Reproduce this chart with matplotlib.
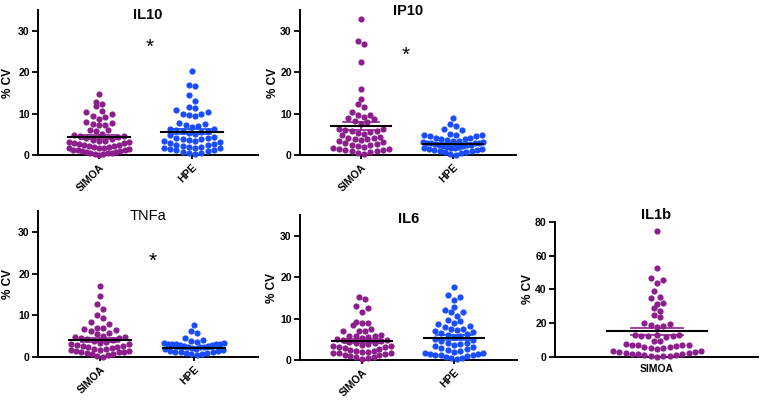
import numpy as np
import matplotlib
matplotlib.use('Agg')
import matplotlib.pyplot as plt

plt.rcParams['font.family'] = ['Liberation Sans', 'DejaVu Sans']

PURPLE = '#8c1f8c'
BLUE = '#1a4dff'

# % CV values (one list per assay / platform)
il10_simoa = [14.7, 12.8, 12.3, 11.9, 10.6, 10.3, 9.9, 9.4, 9.2, 8.8, 8.0, 7.8, 7.6,
              7.3, 7.2, 6.1, 6.0, 5.9, 5.0, 4.8, 4.7, 4.6, 4.4, 4.1, 3.9, 3.7, 3.5,
              3.4, 3.2, 3.1, 2.9, 2.8, 2.6, 2.5, 2.3, 2.2, 2.1, 2.0, 1.9, 1.8, 1.7,
              1.6, 1.4, 1.3, 1.2, 1.1, 1.0, 0.9, 0.8, 0.7, 0.6, 0.5, 0.4, 0.3, 0.2,
              0.1]
il10_hpe = [20.2, 16.9, 16.8, 14.5, 13.0, 11.6, 11.3, 10.8, 10.3, 10.0, 9.8, 9.7,
            9.5, 7.8, 7.6, 7.2, 6.9, 6.7, 6.4, 6.2, 6.1, 5.9, 5.8, 5.6, 5.3, 5.0,
            4.8, 4.4, 4.2, 4.0, 3.9, 3.8, 3.6, 3.4, 3.3, 3.1, 2.9, 2.7, 2.5, 2.3,
            2.2, 2.0, 1.9, 1.8, 1.7, 1.6, 1.4, 1.3, 1.1, 1.0, 0.8, 0.6, 0.4, 0.2]
ip10_simoa = [32.8, 27.6, 26.8, 22.4, 15.9, 13.6, 12.3, 11.7, 10.5, 9.7, 9.6, 9.3,
              8.9, 8.6, 8.2, 8.0, 7.5, 6.4, 6.2, 6.0, 5.9, 5.7, 5.6, 5.4, 5.2, 4.9,
              4.4, 4.2, 4.0, 3.9, 3.8, 3.6, 3.4, 3.2, 2.8, 2.6, 2.5, 2.3, 2.1, 1.9,
              1.7, 1.5, 1.4, 1.3, 1.2, 1.0, 0.9, 0.7, 0.5, 0.3]
ip10_hpe = [9.0, 7.6, 6.9, 6.3, 6.0, 5.0, 4.9, 4.8, 4.8, 4.7, 4.6, 4.2, 4.0, 3.9,
            3.8, 3.6, 3.5, 3.3, 3.2, 3.1, 3.0, 3.0, 2.9, 2.8, 2.7, 2.5, 2.4, 2.3,
            2.2, 2.1, 2.0, 1.9, 1.8, 1.7, 1.6, 1.5, 1.4, 1.3, 1.2, 1.0, 0.9, 0.8,
            0.7, 0.5, 0.3, 0.1]
tnfa_simoa = [17.0, 14.7, 12.6, 11.4, 10.1, 9.3, 8.5, 7.8, 7.0, 7.0, 6.6, 6.4, 6.2,
              5.8, 5.4, 5.1, 4.9, 4.7, 4.6, 4.5, 4.3, 4.1, 3.9, 3.6, 3.4, 3.2, 3.0,
              2.9, 2.7, 2.6, 2.4, 2.3, 2.1, 1.9, 1.8, 1.7, 1.6, 1.5, 1.4, 1.3, 1.2,
              1.1, 0.9, 0.8, 0.6, 0.4, 0.3, 0.1]
tnfa_hpe = [7.7, 6.3, 5.7, 4.6, 4.1, 3.8, 3.6, 3.4, 3.3, 3.2, 3.1, 3.0, 3.0, 3.0,
            2.9, 2.8, 2.7, 2.6, 2.5, 2.4, 2.3, 2.2, 2.0, 1.9, 1.7, 1.5, 1.4, 1.3,
            1.2, 1.1, 1.0, 0.9, 0.8, 0.6, 0.4]
il6_simoa = [15.3, 14.8, 13.1, 12.5, 11.7, 9.3, 9.0, 9.0, 8.5, 7.5, 7.1, 7.0, 6.9,
             6.0, 5.9, 5.8, 5.7, 5.6, 5.4, 5.1, 4.9, 4.8, 4.6, 4.4, 4.2, 4.0, 3.8,
             3.6, 3.4, 3.3, 3.2, 3.1, 2.9, 2.6, 2.4, 2.2, 2.1, 2.0, 1.9, 1.8, 1.7,
             1.6, 1.4, 1.2, 1.1, 1.0, 0.8, 0.7, 0.5, 0.3]
il6_hpe = [17.7, 15.7, 15.2, 14.4, 12.7, 12.0, 11.5, 11.5, 10.6, 9.7, 9.5, 8.9, 8.6,
           8.3, 7.9, 7.6, 7.4, 7.2, 6.9, 6.7, 6.5, 6.3, 6.1, 5.8, 5.6, 5.0, 4.8,
           4.5, 4.2, 4.0, 3.8, 3.6, 3.4, 3.2, 3.0, 2.7, 2.4, 2.1, 1.9, 1.7, 1.6,
           1.5, 1.4, 1.3, 1.2, 1.1, 1.0, 0.8, 0.6, 0.4, 0.2]
il1b_simoa = [74.7, 52.5, 46.9, 45.6, 43.6, 39.3, 35.7, 35.1, 32.2, 31.4, 29.2,
              27.4, 24.9, 23.5, 20.4, 19.7, 19.1, 18.5, 17.9, 13.3, 13.0, 12.8,
              12.6, 12.3, 12.2, 12.0, 9.5, 9.4, 7.7, 7.2, 7.0, 6.9, 6.9, 6.3, 6.1,
              6.0, 5.5, 5.5, 4.6, 3.8, 3.6, 3.2, 3.0, 2.6, 2.2, 2.0, 1.6, 1.5, 1.2,
              1.1, 0.8, 0.6, 0.4, 0.2]

# mean and SEM lines
means = {'IL10': [4.25, 5.6], 'IP10': [7.0, 2.7], 'TNFa': [4.1, 2.2],
         'IL6': [4.6, 5.4], 'IL1b': [15.1]}
sems = {'IL10': [0.5, 0.6], 'IP10': [1.0, 0.3], 'TNFa': [0.45, 0.25],
        'IL6': [0.5, 0.55], 'IL1b': [2.0]}

W, H = 763, 401
fig = plt.figure(figsize=(W / 100, H / 100), dpi=100)

DOT = 6.3  # marker diameter in pixels


def row_offsets(vals, px_per_unit, max_w):
    # Prism-like scatter: values grouped into rows about one dot high,
    # lowest value of a row in the middle, higher ones pushed outwards
    vals = np.asarray(vals, dtype=float)
    order = np.argsort(vals, kind='stable')
    h = DOT / px_per_unit
    rows, cur = [], [order[0]]
    for i in order[1:]:
        if vals[i] - vals[cur[0]] < h:
            cur.append(i)
        else:
            rows.append(cur)
            cur = [i]
    rows.append(cur)
    xs = np.zeros(len(vals))
    for r in rows:
        n = len(r)
        step = min(DOT, max_w / n) if n > 1 else DOT
        slots = (np.arange(n) - (n - 1) / 2) * step
        slots = sorted(slots, key=lambda s: (abs(s), -s))
        for idx, s in zip(r, slots):
            xs[idx] = s
    return xs


def panel(rect_px, ymax, yticks, title, groups, cat_px, star=None, title_y=None,
          bold_title=True, rotate=True, mean_half=0.33, cap_half=0.2, ylab_dx=28,
          max_w=64):
    L, R, B, T = rect_px
    ax = fig.add_axes([L / W, (H - B) / H, (R - L) / W, (B - T) / H])
    if len(cat_px) == 2:
        unit = cat_px[1] - cat_px[0]
    else:
        unit = 100.0
    ax.set_xlim((L - cat_px[0]) / unit, (R - cat_px[0]) / unit)
    ax.set_ylim(0, ymax)
    ypx = (B - T) / ymax

    names = []
    for k, (name, vals, color) in enumerate(groups):
        names.append(name)
        vals = np.asarray(vals)
        xo = row_offsets(vals, ypx, max_w) / unit
        ax.scatter(k + xo, vals, s=20, color=color, linewidths=0, zorder=3, clip_on=False)
        m = means[title][k]
        se = sems[title][k]
        ax.plot([k, k], [m - se, m + se], color=color, lw=1.2, zorder=4)
        for v in (m - se, m + se):
            ax.plot([k - cap_half, k + cap_half], [v, v], color=color, lw=1.2, zorder=4)
        ax.plot([k - mean_half, k + mean_half], [m, m], color='black', lw=1.5, zorder=5)

    for sp in ('top', 'right'):
        ax.spines[sp].set_visible(False)
    for sp in ('left', 'bottom'):
        ax.spines[sp].set_linewidth(1.4)
    ax.set_yticks(yticks)
    ax.set_xticks(range(len(names)))
    ax.tick_params(axis='y', direction='out', length=4, width=1.3, pad=2,
                   labelsize=7.5)
    ax.tick_params(axis='x', direction='out', length=3, width=1.3, pad=2,
                   labelsize=7.5)
    for lab in ax.get_yticklabels():
        lab.set_fontweight('bold')
    if rotate:
        ax.set_xticklabels(names, rotation=45, ha='right', rotation_mode='anchor',
                           fontweight='bold')
    else:
        ax.set_xticklabels(names, fontweight='bold')
        ax.tick_params(axis='x', length=0, pad=5)

    ax.text(-ylab_dx / (R - L), 0.5, '% CV', transform=ax.transAxes, rotation=90,
            ha='center', va='center', fontsize=8.5, fontweight='bold')
    ax.text(0.5, title_y, title, transform=ax.get_yaxis_transform(), ha='center',
            va='center', fontsize=10.5, fontweight='bold' if bold_title else 'normal',
            clip_on=False)
    if star is not None:
        ax.text(star[0], star[1], '*', ha='center', va='center', fontsize=15)
    return ax


panel((38, 258, 155, 10.3), 35, [0, 10, 20, 30], 'IL10',
      [('SIMOA', il10_simoa, PURPLE), ('HPE', il10_hpe, BLUE)], (99, 192),
      star=(0.54, 26.0), title_y=33.9, ylab_dx=30)
panel((300, 516, 155, 10.3), 35, [0, 10, 20, 30], 'IP10',
      [('SIMOA', ip10_simoa, PURPLE), ('HPE', ip10_hpe, BLUE)], (361, 453),
      star=(0.49, 24.1), title_y=34.9, ylab_dx=27)
panel((38, 258, 357, 211), 35, [0, 10, 20, 30], 'TNFa',
      [('SIMOA', tnfa_simoa, PURPLE), ('HPE', tnfa_hpe, BLUE)], (100, 194),
      star=(0.56, 23.0), title_y=33.8, bold_title=False, ylab_dx=30)
panel((300, 517, 360, 215.3), 35, [0, 10, 20, 30], 'IL6',
      [('SIMOA', il6_simoa, PURPLE), ('HPE', il6_hpe, BLUE)], (362, 454),
      title_y=34.1, ylab_dx=28)
panel((555, 758, 357, 221.8), 80, [0, 20, 40, 60, 80], 'IL1b',
      [('SIMOA', il1b_simoa, PURPLE)], (657,),
      title_y=84, rotate=False, mean_half=0.5, cap_half=0.26, ylab_dx=27, max_w=100)

fig.savefig('out.png', dpi=100, facecolor='white')
